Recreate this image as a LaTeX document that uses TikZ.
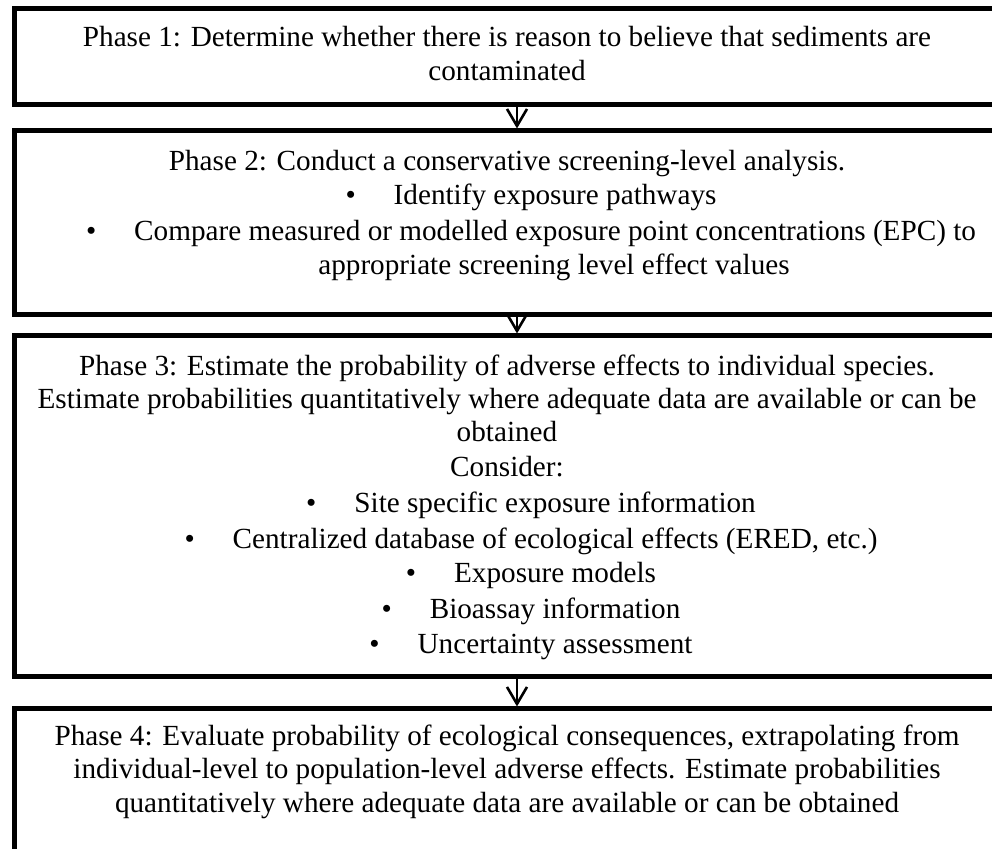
\documentclass[tikz,border=0pt]{standalone}
\usepackage{fontspec}
\setmainfont{Liberation Serif}
\usetikzlibrary{arrows.meta}
\begin{document}
\begin{tikzpicture}[x=0.5pt,y=-0.5pt,
  phasebox/.style={draw=black,line width=2.5pt,fill=white},
  ln/.style={anchor=base,inner sep=0pt,font=\fontsize{14.6}{17}\selectfont},
  flow/.style={line width=1.3pt,-{Straight Barb[length=8.5pt,width=10pt,line width=1.3pt]}}]
\useasboundingbox (0,0) rectangle (992,848);
\clip (0,0) rectangle (992,848);
\newcommand{\bul}{\textbullet\hspace{1.30em}}

% phase boxes
\draw[phasebox] (14,8.5) rectangle (1000,104.5);
\draw[phasebox] (14,130.5) rectangle (1000,314.5);
\draw[phasebox] (14,335.5) rectangle (1000,676.5);
\draw[phasebox] (14,708.5) rectangle (1000,880);
\coordinate (b1s) at (517,106.5);
\coordinate (b2n) at (517,128.5);
\coordinate (b2s) at (517,316.5);
\coordinate (b3n) at (517,333.5);
\coordinate (b3s) at (517,678.5);
\coordinate (b4n) at (517,706.5);

% phase 1
\node[ln] (p1a) at (507,46) {Phase 1: Determine whether there is reason to believe that sediments are};
\node[ln] (p1b) at (507,80) {contaminated};

% phase 2
\node[ln] (p2a) at (507,170) {Phase 2: Conduct a conservative screening-level analysis.};
\node[ln] (p2b) at (531,204) {\bul Identify exposure pathways};
\node[ln] (p2c) at (531,240) {\bul Compare measured or modelled exposure point concentrations (EPC) to};
\node[ln] (p2d) at (554,274) {appropriate screening level effect values};

% phase 3
\node[ln] (p3a) at (507,375) {Phase 3: Estimate the probability of adverse effects to individual species.};
\node[ln] (p3b) at (507,408) {Estimate probabilities quantitatively where adequate data are available or can be};
\node[ln] (p3c) at (507,441) {obtained};
\node[ln] (p3d) at (507,476) {Consider:};
\node[ln] (p3e) at (531,512) {\bul Site specific exposure information};
\node[ln] (p3f) at (531,548) {\bul Centralized database of ecological effects (ERED, etc.)};
\node[ln] (p3g) at (531,582) {\bul Exposure models};
\node[ln] (p3h) at (531,618) {\bul Bioassay information};
\node[ln] (p3i) at (531,653) {\bul Uncertainty assessment};

% phase 4
\node[ln] (p4a) at (507,745) {Phase 4: Evaluate probability of ecological consequences, extrapolating from};
\node[ln] (p4b) at (507,778) {individual-level to population-level adverse effects. Estimate probabilities};
\node[ln] (p4c) at (507,812) {quantitatively where adequate data are available or can be obtained};

% connectors between phases
\draw[flow] (b1s) -- (b2n);
\draw[flow] (b2s) -- (b3n);
\draw[flow] (b3s) -- (b4n);
\end{tikzpicture}
\end{document}
